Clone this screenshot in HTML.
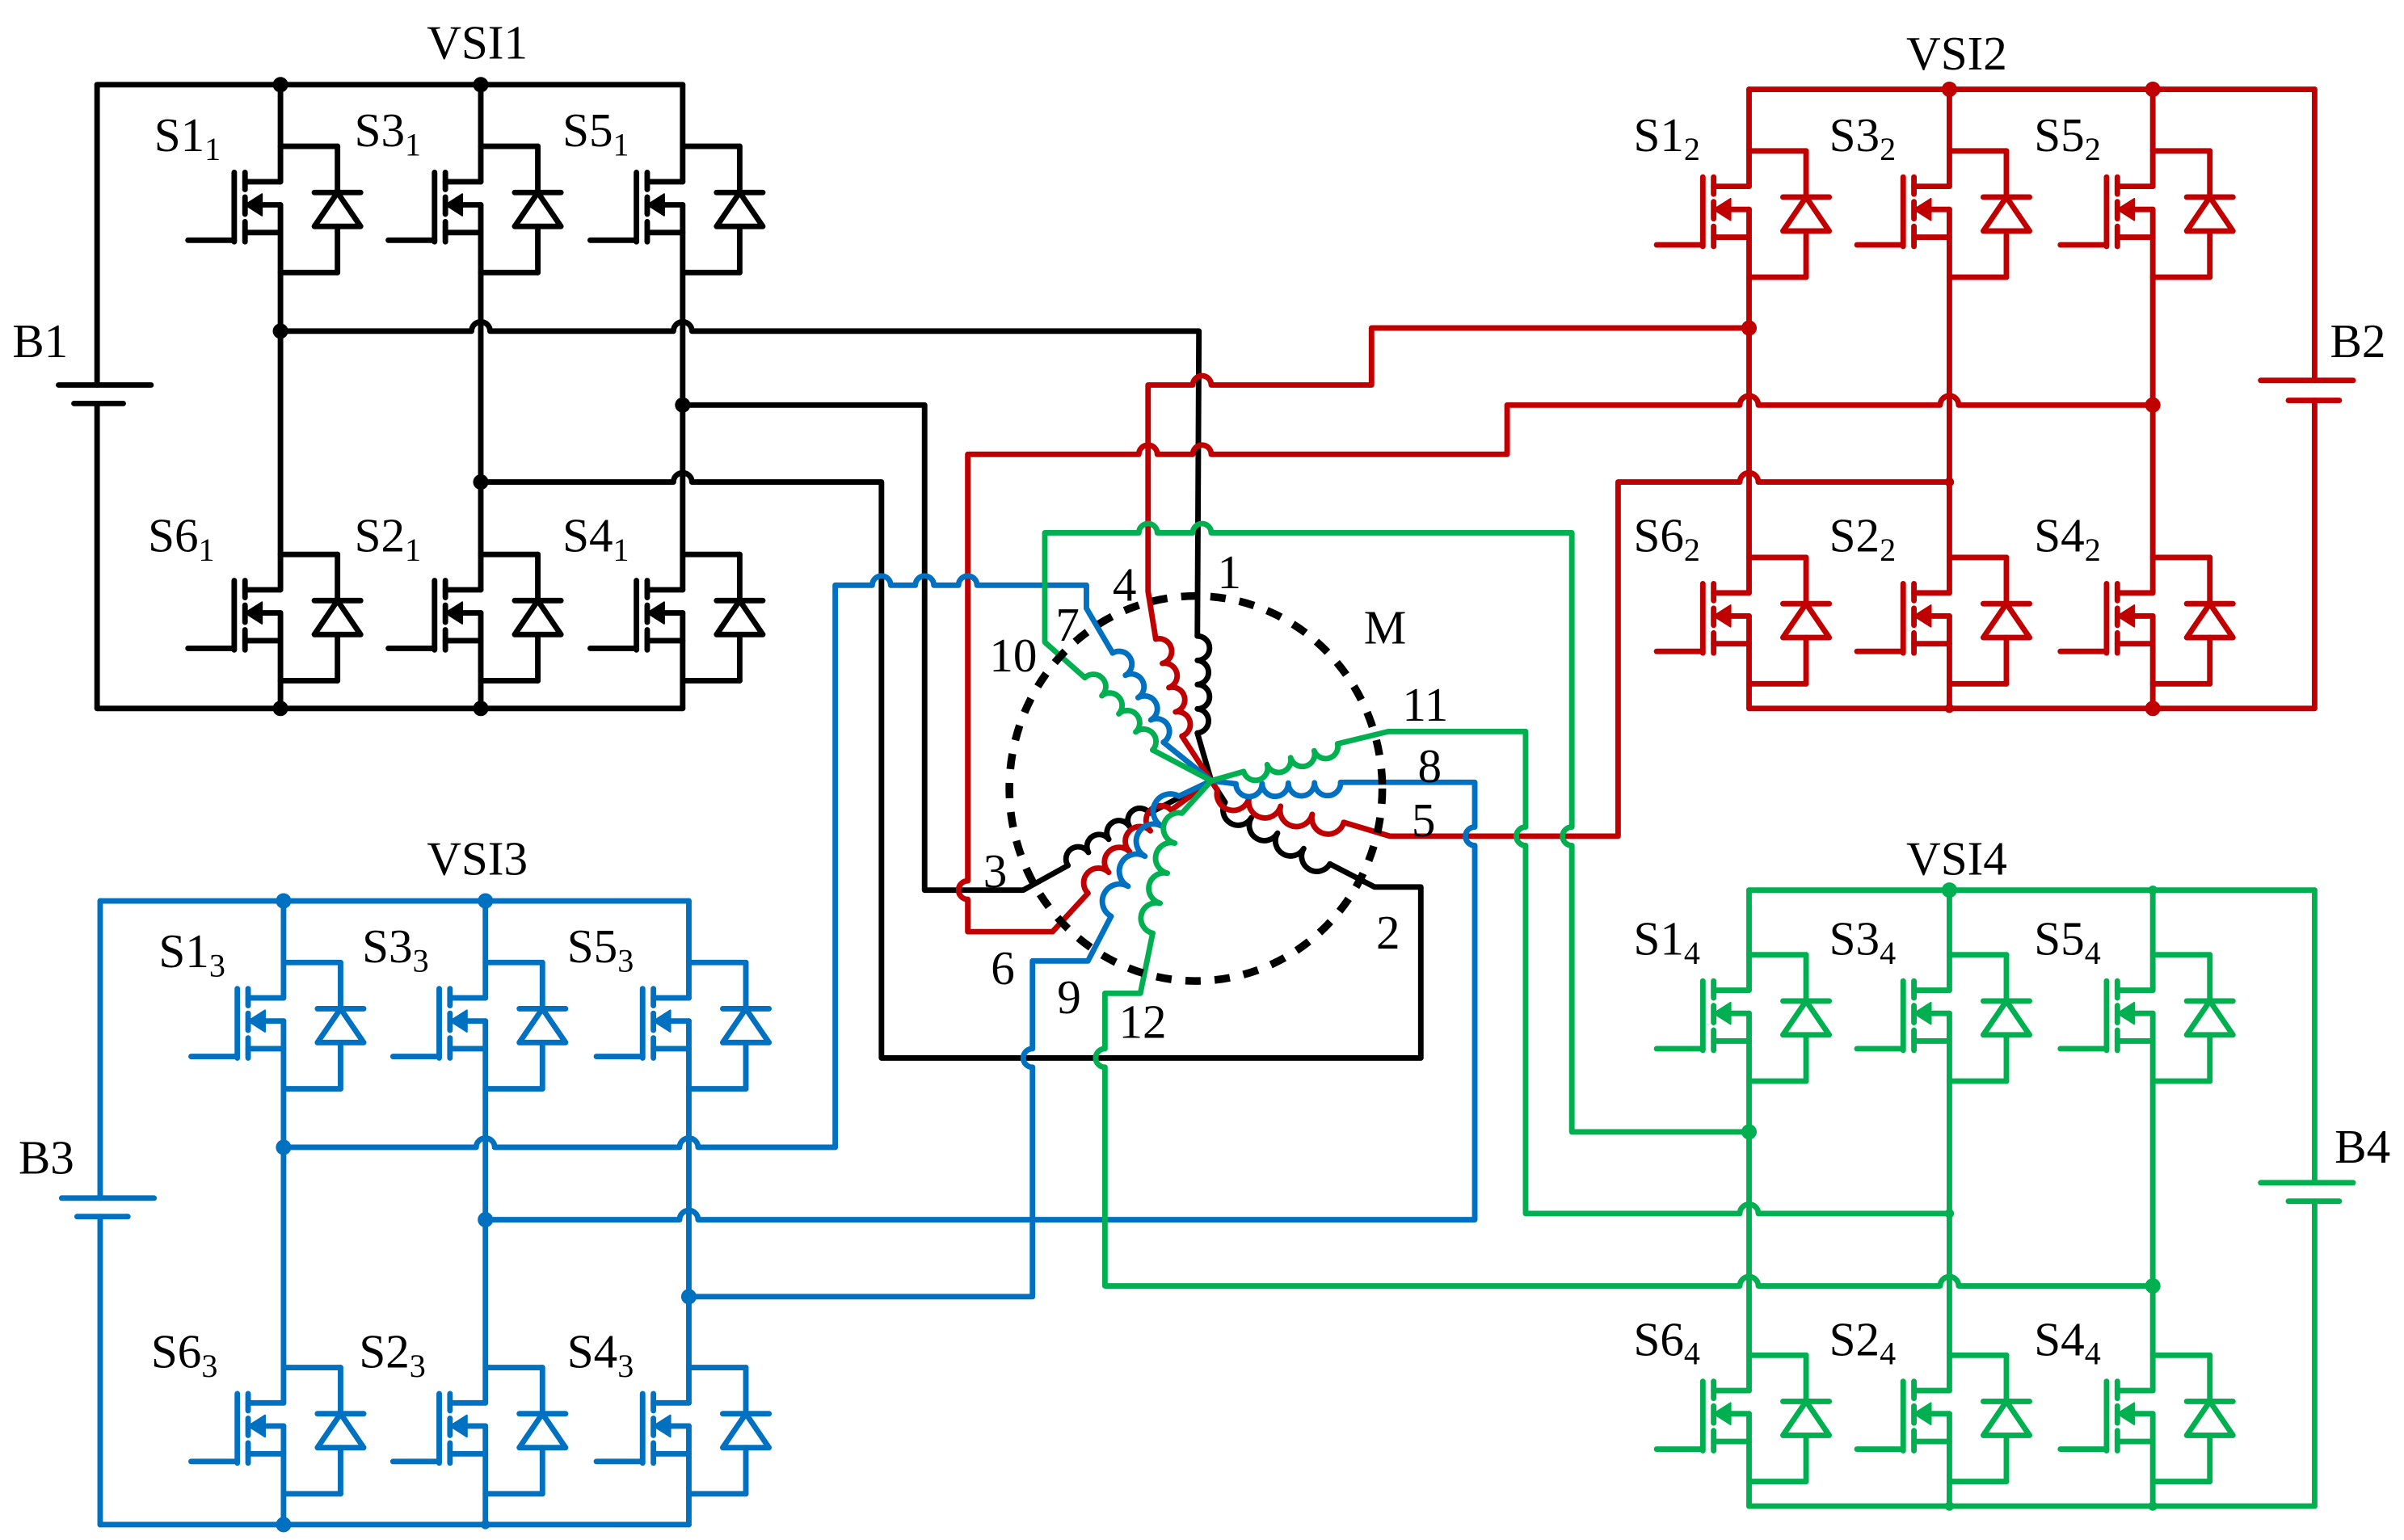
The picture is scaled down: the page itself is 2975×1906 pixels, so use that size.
<!DOCTYPE html>
<html><head><meta charset="utf-8"><style>
html,body{margin:0;padding:0;background:#fff}
svg{display:block}
text{font-family:"Liberation Serif","Times New Roman",serif;font-size:31px}
.sb{font-size:21px}
</style></head><body>
<svg id="s" width="2975" height="1906" viewBox="0 0 1560 1000" preserveAspectRatio="none" xmlns="http://www.w3.org/2000/svg">
<g id="g" fill="none" stroke-width="3.6" stroke-linecap="round" stroke-linejoin="round"></g>
<ellipse cx="776" cy="512" rx="121" ry="125" fill="none" stroke="#000" stroke-width="5" stroke-dasharray="10 9"/>
<g fill="#000" font-family="Liberation Serif, serif">
<text x="277" y="38">VSI1</text>
<text x="100" y="98">S1<tspan class="sb" dy="6">1</tspan></text>
<text x="230" y="95">S3<tspan class="sb" dy="6">1</tspan></text>
<text x="365" y="95">S5<tspan class="sb" dy="6">1</tspan></text>
<text x="96" y="358">S6<tspan class="sb" dy="6">1</tspan></text>
<text x="230" y="358">S2<tspan class="sb" dy="6">1</tspan></text>
<text x="365" y="358">S4<tspan class="sb" dy="6">1</tspan></text>
<text x="8" y="232">B1</text>
<text x="1237" y="45">VSI2</text>
<text x="1060" y="98">S1<tspan class="sb" dy="6">2</tspan></text>
<text x="1187" y="98">S3<tspan class="sb" dy="6">2</tspan></text>
<text x="1320" y="98">S5<tspan class="sb" dy="6">2</tspan></text>
<text x="1060" y="358">S6<tspan class="sb" dy="6">2</tspan></text>
<text x="1187" y="358">S2<tspan class="sb" dy="6">2</tspan></text>
<text x="1320" y="358">S4<tspan class="sb" dy="6">2</tspan></text>
<text x="1512" y="232">B2</text>
<text x="277" y="568">VSI3</text>
<text x="103" y="628">S1<tspan class="sb" dy="6">3</tspan></text>
<text x="235" y="625">S3<tspan class="sb" dy="6">3</tspan></text>
<text x="368" y="625">S5<tspan class="sb" dy="6">3</tspan></text>
<text x="98" y="888">S6<tspan class="sb" dy="6">3</tspan></text>
<text x="233" y="888">S2<tspan class="sb" dy="6">3</tspan></text>
<text x="368" y="888">S4<tspan class="sb" dy="6">3</tspan></text>
<text x="12" y="762">B3</text>
<text x="1237" y="568">VSI4</text>
<text x="1060" y="620">S1<tspan class="sb" dy="6">4</tspan></text>
<text x="1187" y="620">S3<tspan class="sb" dy="6">4</tspan></text>
<text x="1320" y="620">S5<tspan class="sb" dy="6">4</tspan></text>
<text x="1060" y="880">S6<tspan class="sb" dy="6">4</tspan></text>
<text x="1187" y="880">S2<tspan class="sb" dy="6">4</tspan></text>
<text x="1320" y="880">S4<tspan class="sb" dy="6">4</tspan></text>
<text x="1515" y="755">B4</text>
<text x="790" y="382">1</text>
<text x="722" y="390">4</text>
<text x="685" y="416">7</text>
<text x="642" y="436">10</text>
<text x="885" y="418">M</text>
<text x="910" y="468">11</text>
<text x="920" y="508">8</text>
<text x="916" y="543">5</text>
<text x="638" y="576">3</text>
<text x="893" y="616">2</text>
<text x="643" y="639">6</text>
<text x="686" y="658">9</text>
<text x="726" y="674">12</text>
</g>
</svg>
<script>
var g=document.getElementById('g'),NS='http://www.w3.org/2000/svg';
function el(t,a){var e=document.createElementNS(NS,t);for(var k in a)e.setAttribute(k,a[k]);g.appendChild(e);return e;}
function L(x1,y1,x2,y2,c){el('line',{x1:x1,y1:y1,x2:x2,y2:y2,stroke:c});}
function dot(x,y,c,r){el('circle',{cx:x,cy:y,r:r||5,fill:c,stroke:'none'});}
function sw(x,y,c){
 L(x,y,x+37,y,c);L(x+37,y,x+37,y+30,c);L(x+22,y+30,x+52,y+30,c);
 el('polygon',{points:(x+37)+','+(y+30)+' '+(x+22)+','+(y+52)+' '+(x+52)+','+(y+52),stroke:c,fill:'#fff'});
 L(x+37,y+52,x+37,y+82,c);L(x+37,y+82,x,y+82,c);
 L(x-23,y+23,x,y+23,c);L(x-23,y+56,x,y+56,c);L(x,y+38,x-14,y+38,c);
 el('polygon',{points:(x-23)+','+(y+38)+' '+(x-12)+','+(y+31)+' '+(x-12)+','+(y+45),fill:c,stroke:c,'stroke-width':1});
 L(x-23,y+17,x-23,y+28,c);L(x-23,y+33,x-23,y+44,c);L(x-23,y+49,x-23,y+62,c);
 L(x-30,y+17,x-30,y+62,c);L(x-30,y+61,x-60,y+61,c);
}
function path(pts,hops,c){
 var d='M'+pts[0][0]+','+pts[0][1];
 for(var i=1;i<pts.length;i++){
  var a=pts[i-1],b=pts[i],dx=Math.sign(b[0]-a[0]),dy=Math.sign(b[1]-a[1]);
  var hs=(hops||[]).filter(function(h){
   if(dy==0&&h[1]==a[1])return (h[0]-a[0])*(h[0]-b[0])<0;
   if(dx==0&&h[0]==a[0])return (h[1]-a[1])*(h[1]-b[1])<0;return false;});
  hs.sort(function(p,q){return (dx?(p[0]-q[0])*dx:(p[1]-q[1])*dy);});
  hs.forEach(function(h){
   var r=6,sx=h[0]-dx*r,sy=h[1]-dy*r,ex=h[0]+dx*r,ey=h[1]+dy*r;
   var bx=dy?-1:0,by=dx?-1:0;var sweep=(bx==dy&&by==-dx)?1:0;
   d+=' L'+sx+','+sy+' A'+r+','+r+' 0 0 '+sweep+' '+ex+','+ey;});
  d+=' L'+b[0]+','+b[1];
 }
 el('path',{d:d,stroke:c});
}
function coil(ax,ay,bx,by,c){
 var n=4,dx=(ax-bx)/n,dy=(ay-by)/n,r=Math.hypot(dx,dy)/2,d='M'+bx+','+by;
 for(var i=1;i<=n;i++)d+=' A'+r+','+r+' 0 0 1 '+(bx+dx*i).toFixed(1)+','+(by+dy*i).toFixed(1);
 el('path',{d:d,stroke:c});
}
function vsi(legs,rt,rb,y1,y2,side,c){
 legs.forEach(function(x){sw(x,y1,c);sw(x,y2,c);
  L(x,rt,x,y1+23,c);L(x,y1+38,x,y2+23,c);L(x,y2+38,x,rb,c);});
 var l=legs[0],r=legs[2];
 L(Math.min(l,side),rt,Math.max(r,side),rt,c);L(Math.min(l,side),rb,Math.max(r,side),rb,c);
}
var K='#000',R='#c00000',B='#0070c0',G='#00b050';
vsi([182,312,443],55,460,95,360,63,K);
L(63,55,63,250,K);L(63,262,63,460,K);L(38,250,98,250,K);L(48,262,80,262,K);
vsi([1135,1265,1397],58,460,98,362,1502,R);
L(1502,58,1502,247,R);L(1502,260,1502,460,R);L(1467,247,1527,247,R);L(1485,260,1518,260,R);
vsi([184,315,447],585,990,625,888,65,B);
L(65,585,65,778,B);L(65,790,65,990,B);L(40,778,100,778,B);L(50,790,83,790,B);
vsi([1135,1265,1397],578,978,620,880,1502,G);
L(1502,578,1502,768,G);L(1502,780,1502,978,G);L(1467,768,1527,768,G);L(1485,780,1518,780,G);
var C=[786,507];
var W=[
 [[777,476],[777,413],[[777,413],[778,215],[182,215]],[[312,215],[443,215]],K],
 [[795,521],[863,561],[[863,561],[892,576],[922,576],[922,687],[572,687],[572,313],[312,313]],[[443,313]],K],
 [[746,528],[693,562],[[693,562],[664,578],[600,578],[600,263],[443,263]],[],K],
 [[767,478],[750,415],[[750,415],[745,384],[745,250],[890,250],[890,213],[1135,213]],[[780,250]],R],
 [[790,513],[872,534],[[872,534],[902,543],[1050,543],[1050,313],[1265,313]],[[1135,313]],R],
 [[760,526],[706,580],[[706,580],[683,605],[628,605],[628,295],[978,295],[978,263],[1397,263]],[[628,578],[745,295],[780,295],[1135,263],[1265,263]],R],
 [[755,482],[722,424],[[722,424],[705,395],[705,380],[542,380],[542,745],[184,745]],[[628,380],[600,380],[572,380],[447,745],[315,745]],B],
 [[802,509],[870,508],[[870,508],[957,508],[957,792],[315,792]],[[957,543],[447,792]],B],
 [[765,517],[721,595],[[721,595],[706,624],[670,624],[670,842],[447,842]],[[670,687]],B],
 [[748,487],[704,440],[[704,440],[678,417],[678,346],[1020,346],[1020,735],[1135,735]],[[745,346],[780,346],[1020,543]],G],
 [[807,501],[868,483],[[868,483],[901,475],[990,475],[990,788],[1265,788]],[[990,543],[1135,788]],G],
 [[767,528],[748,606],[[748,606],[740,645],[717,645],[717,835],[1397,835]],[[717,687],[1135,835],[1265,835]],G]
];
W.forEach(function(w){coil(w[0][0],w[0][1],w[1][0],w[1][1],w[4]);
 L(w[0][0],w[0][1],C[0],C[1],w[4]);path(w[2],w[3],w[4]);});
[[182,55],[312,55],[182,460],[312,460],[182,215],[443,263],[312,313]].forEach(function(p){dot(p[0],p[1],K);});
[[1265,58],[1397,58],[1265,460,3],[1397,460],[1135,213],[1397,263],[1265,313,3]].forEach(function(p){dot(p[0],p[1],R,p[2]);});
[[184,585],[315,585],[184,990],[315,990,3],[184,745],[315,792],[447,842]].forEach(function(p){dot(p[0],p[1],B,p[2]);});
[[1265,578],[1397,578,3],[1265,978,3],[1397,978,3],[1135,735],[1265,788,3],[1397,835]].forEach(function(p){dot(p[0],p[1],G,p[2]);});
</script>
</body></html>
